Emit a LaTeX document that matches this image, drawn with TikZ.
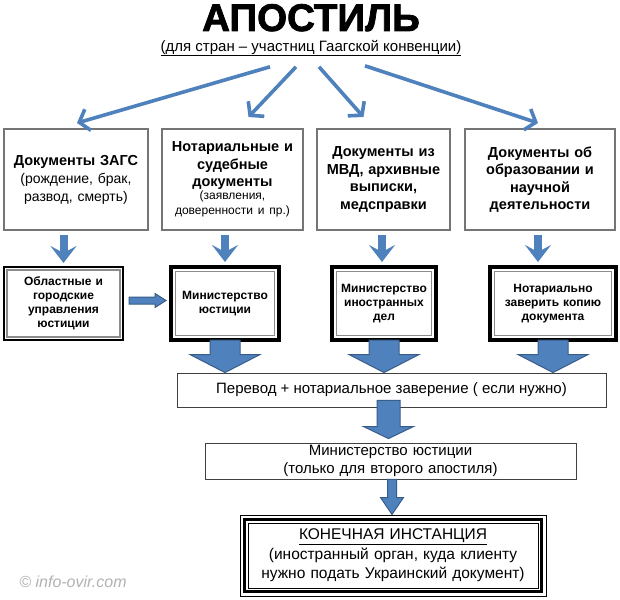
\documentclass[tikz,border=0pt]{standalone}
\usepackage{fontspec}
\setmainfont{Liberation Sans}
\newfontfamily\heavyfont[FakeBold=2]{Liberation Sans Bold}
\usetikzlibrary{arrows.meta,calc}
\definecolor{arrowblue}{HTML}{4F81BD}
\definecolor{arrowedge}{HTML}{385D8A}
\definecolor{boxgray}{HTML}{757575}
\definecolor{framegray}{HTML}{8C8C8C}
\newcommand\blkdown[5]{%
  \filldraw[blockarrow] let \p1=(#1), \p2=(#2) in
    (\x1-#3pt,\y1) -- (\x1+#3pt,\y1) -- (\x1+#3pt,\y2+#5pt) -- (\x1+#4pt,\y2+#5pt)
    -- (\x1,\y2) -- (\x1-#4pt,\y2+#5pt) -- (\x1-#3pt,\y2+#5pt) -- cycle;}
\newcommand\blkright[5]{%
  \filldraw[blockarrow] let \p1=(#1), \p2=(#2) in
    (\x1,\y1+#3pt) -- (\x2-#5pt,\y1+#3pt) -- (\x2-#5pt,\y1+#4pt) -- (\x2,\y1)
    -- (\x2-#5pt,\y1-#4pt) -- (\x2-#5pt,\y1-#3pt) -- (\x1,\y1-#3pt) -- cycle;}
\tikzset{
  topbox/.style={draw=boxgray, line width=2pt, fill=white, align=center, inner sep=2pt,
    font=\fontsize{14.5}{17.5}\selectfont\bfseries},
  midbox/.style={draw=black, line width=4pt, fill=white, align=center, inner sep=2pt,
    font=\fontsize{12}{14}\selectfont\bfseries},
  lowbox/.style={draw=black!75, line width=0.9pt, fill=white, align=center, inner sep=1pt,
    font=\fontsize{15}{17.5}\selectfont},
  innerframe/.style={draw=framegray, line width=1.4pt},
  blockarrow/.style={fill=arrowblue, draw=arrowedge, line width=1pt, line join=miter},
  titlearrow/.style={draw=arrowblue, line width=3.6pt,
    -{Straight Barb[length=9pt,width=22pt,line width=3.6pt]}},
  chev/.style={draw=arrowblue, line width=8pt,
    -{Stealth[length=17pt,width=26pt,inset=7pt]}},
}
\begin{document}
\begin{tikzpicture}[x=1pt,y=-1pt]
\useasboundingbox[fill=white] (0,0) rectangle (620,599);

% title
\node[font=\heavyfont\fontsize{38.5}{42}\selectfont, inner sep=0pt, anchor=base] (title) at (311,31) {АПОСТИЛЬ};
\node[font=\fontsize{15}{17}\selectfont, inner sep=0.5pt] (sub) at (311,48) {\underline{(для стран – участниц Гаагской конвенции)}};

% top row
\node[topbox, minimum width=144pt, minimum height=101pt, text width=140pt] (b1) at (76,179.5)
  {Документы ЗАГС\\[1pt] {\mdseries\fontsize{14}{17.5}\selectfont (рождение, брак,\\ развод, смерть)}};
\node[topbox, minimum width=141pt, minimum height=101pt, text width=137pt] (b2) at (232.5,179.5)
  {Нотариальные и\\ судебные\\ документы\\[-1pt] {\mdseries\fontsize{12}{14}\selectfont (заявления,\\[-3pt] доверенности и пр.)}};
\node[topbox, minimum width=133pt, minimum height=101pt, text width=129pt] (b3) at (383.5,179.5)
  {Документы из\\ МВД, архивные\\ выписки,\\ медсправки};
\node[topbox, minimum width=150pt, minimum height=101pt, text width=144pt] (b4) at (540,179.5)
  {Документы об\\ образовании и\\ научной\\ деятельности};

% second row
\node[midbox, line width=2pt, minimum width=119pt, minimum height=73pt, text width=112pt] (A) at (63.5,303.5)
  {Областные и\\ городские\\ управления\\ юстиции};
\node[midbox, minimum width=108pt, minimum height=73pt, text width=100pt] (B) at (225,303.5)
  {Министерство\\ юстиции};
\node[midbox, minimum width=104pt, minimum height=73pt, text width=96pt] (C) at (384,303.5)
  {Министерство\\ иностранных\\ дел};
\node[midbox, minimum width=126pt, minimum height=73pt, text width=118pt] (D) at (553,303.5)
  {Нотариально\\ заверить копию\\ документа};
\draw[innerframe, line width=1.1pt] ($(A.south west)+(4,-4)$) rectangle ($(A.north east)+(-4,4)$);
\foreach \n in {B,C,D}{
  \draw[innerframe] ($(\n.south west)+(6.5,-6.5)$) rectangle ($(\n.north east)+(-6.5,6.5)$);
}

% lower boxes
\node[lowbox, minimum width=429pt, minimum height=34pt] (P) at (391.5,390)
  {Перевод + нотариальное заверение ( если нужно)};
\node[lowbox, minimum width=371pt, minimum height=36pt, text width=360pt] (M) at (390.5,461)
  {Министерство юстиции\\ (только для второго апостиля)};
\node[draw=black, line width=1pt, fill=white, minimum width=306pt, minimum height=81pt,
  text width=296pt, align=center, font=\fontsize{15.5}{19.5}\selectfont] (F) at (393,555.5)
  {{\fontsize{15.5}{19.5}\selectfont\underline{КОНЕЧНАЯ ИНСТАНЦИЯ}}\\ (иностранный орган, куда клиенту\\ нужно подать Украинский документ)};
\draw[draw=black, line width=2.4pt] ($(F.south west)+(5,-5)$) rectangle ($(F.north east)+(-5,5)$);
\draw[draw=black, line width=0.8pt] ($(F.south west)+(8.5,-8.5)$) rectangle ($(F.north east)+(-8.5,8.5)$);

% watermark
\node[font=\itshape\fontsize{16}{18}\selectfont, text=black!30, inner sep=0pt] (wm) at (73,582) {© info-ovir.com};

% title arrows
\coordinate (s1) at ($(sub.south)+(-41,10)$);
\coordinate (s2) at ($(sub.south)+(-15,10)$);
\coordinate (s3) at ($(sub.south)+(8,10)$);
\coordinate (s4) at ($(sub.south)+(54,9)$);
\draw[titlearrow] (s1) -- ($(b1.north)+(1,-5)$);
\draw[titlearrow] (s2) -- ($(b2.north)+(16,-11)$);
\draw[titlearrow] (s3) -- ($(b3.north)+(-20,-11)$);
\draw[titlearrow] (s4) -- ($(b4.north)+(-2,-5)$);

% small arrows top row -> second row
\draw[chev] ($(A.north |- b1.south)+(0,4)$) -- ($(A.north)+(0,-3)$);
\draw[chev] ($(B.north |- b2.south)+(0,4)$) -- ($(B.north)+(0,-3)$);
\draw[chev] ($(C.north |- b3.south)+(-2,4)$) -- ($(C.north)+(-2,-3)$);
\draw[chev] ($(b4.south)+(-2,4)$) -- ($(b4.south |- D.north)+(-2,-3)$);

% A -> B
\blkright{$(A.east)+(5,-3)$}{$(B.west)+(-3,-3)$}{3.5}{7}{11}

% block arrows
\blkdown{$(B.south)+(0,-2)$}{B.south |- P.north}{15}{35}{18}
\blkdown{$(C.south)+(0,-2)$}{C.south |- P.north}{15}{35}{18}
\blkdown{$(D.south)+(0,-2)$}{D.south |- P.north}{15}{35}{18}
\blkdown{$(P.south -| M.north)+(-2,-7)$}{$(M.north)+(-2,-4)$}{11.5}{25}{12}
\blkdown{$(M.south -| F.north)+(-1,0)$}{$(F.north)+(-1,0)$}{4.5}{11.5}{17}
\end{tikzpicture}
\end{document}
